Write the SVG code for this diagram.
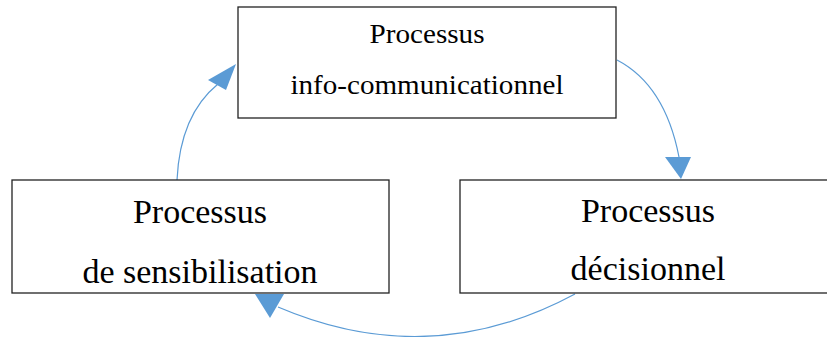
<svg xmlns="http://www.w3.org/2000/svg" width="827" height="337" viewBox="0 0 827 337">
<style>
.box{fill:#fff;stroke:#222;stroke-width:1.3}
.t{font-family:'Liberation Serif','Times New Roman','DejaVu Serif',serif;fill:#000;text-anchor:middle}
.big{font-size:34px}
.small{font-size:27px}
.con{fill:none;stroke:#5B9BD5;stroke-width:1.2}
.head{fill:#5B9BD5;stroke:none}
</style>
<rect width="827" height="337" fill="#fff"/>
<g id="connectors">
<path class="con" d="M177,180 Q180,115 218,84"/>
<polygon class="head" points="236,64 208,80 226,90"/>
<path class="con" d="M617,60 Q665,85 679,157"/>
<polygon class="head" points="665,157 691,157 681,179"/>
<path class="con" d="M575,294 Q430,372 278,307"/>
<polygon class="head" points="255,294 284,294 270,318"/>
</g>
<g id="node-info">
<rect class="box" x="238" y="7" width="378" height="111"/>
<text class="t small" x="427" y="43" textLength="115" lengthAdjust="spacingAndGlyphs">Processus</text>
<text class="t small" x="427" y="94" textLength="273" lengthAdjust="spacingAndGlyphs">info-communicationnel</text>
</g>
<g id="node-sensibilisation">
<rect class="box" x="12" y="180" width="377" height="113"/>
<text class="t big" x="200" y="223">Processus</text>
<text class="t big" x="200" y="283">de sensibilisation</text>
</g>
<g id="node-decisionnel">
<rect class="box" x="460" y="180" width="376" height="113"/>
<text class="t big" x="648" y="222">Processus</text>
<text class="t big" x="648" y="280">décisionnel</text>
</g>
</svg>
